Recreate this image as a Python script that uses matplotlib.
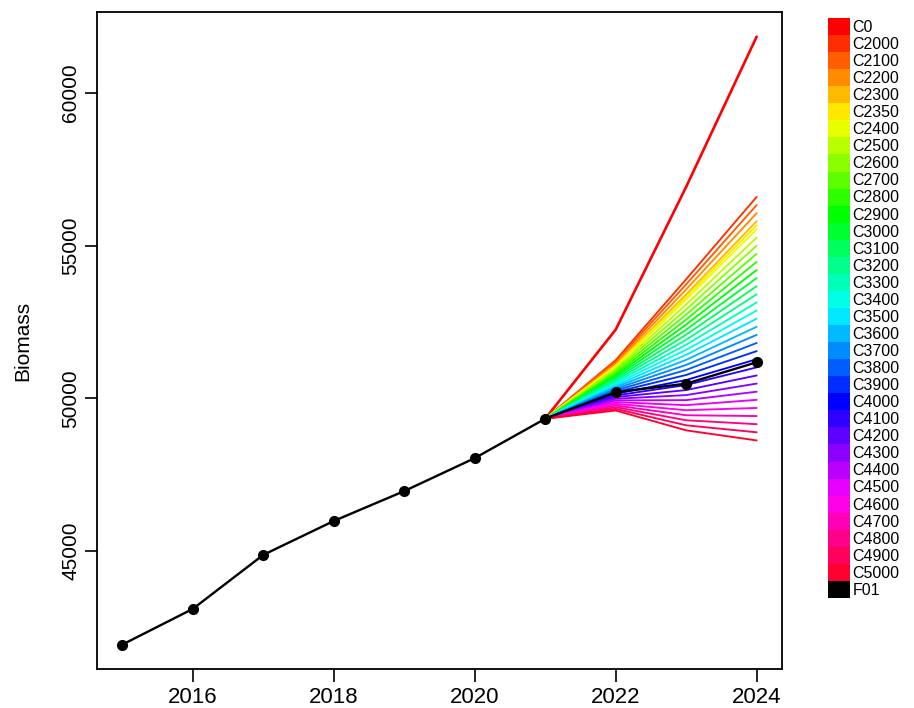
import matplotlib
matplotlib.use("Agg")
import matplotlib.pyplot as plt
from matplotlib.patches import Rectangle
from matplotlib import font_manager
import colorsys

# ---------------- data ----------------
years_hist = [2015, 2016, 2017, 2018, 2019, 2020, 2021, 2022, 2023, 2024]
f01_biomass = [41930, 43100, 44870, 45980, 46960, 48040, 49330, 50200, 50480, 51180]

proj_years = [2021, 2022, 2023, 2024]
start_2021 = 49330

scenario_labels = ["C0", "C2000", "C2100", "C2200", "C2300", "C2350", "C2400",
                   "C2500", "C2600", "C2700", "C2800", "C2900", "C3000", "C3100",
                   "C3200", "C3300", "C3400", "C3500", "C3600", "C3700", "C3800",
                   "C3900", "C4000", "C4100", "C4200", "C4300", "C4400", "C4500",
                   "C4600", "C4700", "C4800", "C4900", "C5000"]

b2022 = [52250, 51250, 51195, 51140, 51085, 51058, 51030, 50975, 50920, 50865,
         50810, 50755, 50700, 50645, 50590, 50535, 50480, 50425, 50370, 50315,
         50260, 50205, 50150, 50095, 50040, 49985, 49930, 49875, 49820, 49765,
         49710, 49655, 49600]
b2023 = [56930, 53900, 53735, 53570, 53405, 53323, 53240, 53075, 52910, 52745,
         52580, 52415, 52250, 52085, 51920, 51755, 51590, 51425, 51260, 51095,
         50930, 50765, 50600, 50435, 50270, 50105, 49940, 49775, 49610, 49445,
         49280, 49115, 48950]
b2024 = [61850, 56600, 56334, 56068, 55802, 55669, 55536, 55270, 55004, 54738,
         54472, 54206, 53940, 53674, 53408, 53142, 52876, 52610, 52344, 52078,
         51812, 51546, 51280, 51014, 50748, 50482, 50216, 49950, 49684, 49418,
         49152, 48886, 48620]

x_ticks = [2016, 2018, 2020, 2022, 2024]
y_ticks = [45000, 50000, 55000, 60000]

# ---------------- style ----------------
plt.rcParams['font.family'] = ['Liberation Sans', 'DejaVu Sans']
names = {f.name for f in font_manager.fontManager.ttflist}
narrow = 'Liberation Sans Narrow' if 'Liberation Sans Narrow' in names else 'Liberation Sans'

n = len(scenario_labels)
colors = [colorsys.hsv_to_rgb(i / n, 1.0, 1.0) for i in range(n)]

fig = plt.figure(figsize=(9.14, 7.08), dpi=100)
ax = fig.add_axes([0.1061, 0.0551, 0.7495, 0.928])

for i in range(n):
    ys = [start_2021, b2022[i], b2023[i], b2024[i]]
    ax.plot(proj_years, ys, color=colors[i], lw=1.9 if i == 0 else 1.35,
            solid_capstyle='round', zorder=2)

ax.plot(years_hist, f01_biomass, color='black', lw=1.7, marker='o',
        markersize=7, zorder=5)

ax.set_xlim(2014.64, 2024.36)
ax.set_ylim(41130, 62660)
ax.set_xticks(x_ticks)
ax.set_yticks(y_ticks)
ax.set_xticklabels([str(t) for t in x_ticks], fontsize=16)
ax.set_yticklabels([str(t) for t in y_ticks], fontsize=15, rotation=90,
                   va='center', family=narrow)
ax.tick_params(axis='both', length=9, width=1.2, color='black', pad=4)
ax.tick_params(axis='y', pad=3)
for s in ax.spines.values():
    s.set_linewidth(1.3)
ax.set_ylabel("Biomass", fontsize=15, family=narrow)
ax.yaxis.set_label_coords(-0.095, 0.5)

# ---------------- legend (stacked colour boxes) ----------------
labels_all = scenario_labels + ["F01"]
colors_all = colors + [(0, 0, 0)]
m = len(labels_all)
lax = fig.add_axes([828 / 914, 1 - 598 / 708, 22 / 914, 580 / 708])
lax.set_xlim(0, 1)
lax.set_ylim(m, 0)
lax.axis('off')
for j, (lab, c) in enumerate(zip(labels_all, colors_all)):
    lax.add_patch(Rectangle((0, j), 1, 1, facecolor=c, edgecolor='none'))
    lax.text(1.12, j + 0.55, lab, fontsize=11.5, va='center', ha='left',
             clip_on=False)

fig.savefig("out.png", dpi=100)
